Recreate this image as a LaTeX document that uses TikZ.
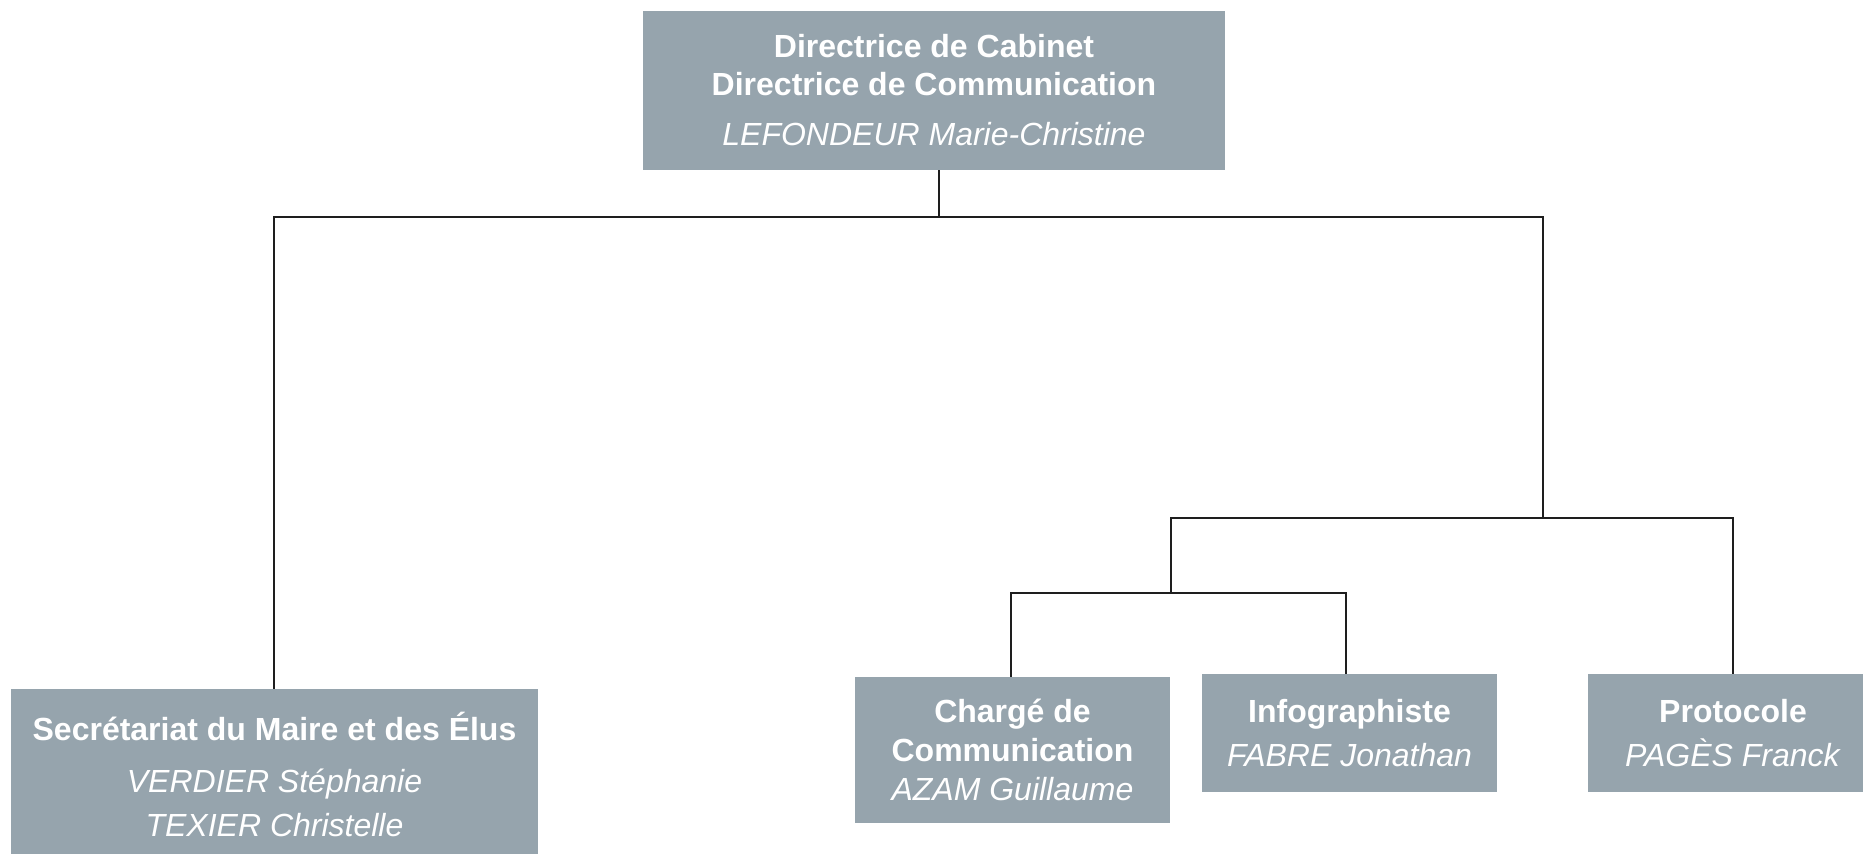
\documentclass[tikz,border=0pt]{standalone}
\usepackage{fontspec}
\setmainfont{Liberation Sans}
\definecolor{boxgray}{RGB}{150,164,173}
\definecolor{linkcol}{RGB}{30,30,30}
\begin{document}
\begin{tikzpicture}[x=0.5pt,y=-0.5pt,
  orgbox/.style={fill=boxgray, draw=none, text=white, align=center, inner sep=0pt,
                 font=\fontsize{16}{19}\selectfont},
  link/.style={draw=linkcol, line width=1.35pt}]
\useasboundingbox (0,0) rectangle (1863,853);

\node[orgbox, minimum width=291pt, minimum height=79.5pt] (top) at (934,90.5)
  {\textbf{Directrice de Cabinet}\\\textbf{Directrice de Communication}\\[6pt]\textit{LEFONDEUR Marie-Christine}};
\node[orgbox, minimum width=263.5pt, minimum height=85.5pt] (sec) at (274.5,774.5)
  {\textbf{Secrétariat du Maire et des Élus}\\[7pt]\textit{VERDIER Stéphanie}\\[3pt]\textit{TEXIER Christelle}};
\node[orgbox, minimum width=157.5pt, minimum height=73pt] (charge) at (1012.5,750)
  {\textbf{Chargé de}\\[0.5pt]\textbf{Communication}\\[0.5pt]\textit{AZAM Guillaume}};
\node[orgbox, minimum width=147.5pt, minimum height=59pt] (info) at (1349.5,733)
  {\textbf{Infographiste}\\[3pt]\textit{FABRE Jonathan}};
\node[orgbox, minimum width=145pt, minimum height=59pt] (proto) at (1733,733)
  {\textbf{Protocole}\\[3pt]\textit{PAGÈS Franck}};

\coordinate (hA) at (939,217);
\coordinate (hL) at (274,217);
\coordinate (hR) at (1543,217);
\coordinate (mR) at (1543,518);
\coordinate (mL) at (1171,518);
\coordinate (mE) at (1733,518);
\coordinate (lC) at (1171,593);
\coordinate (lL) at (1011,593);
\coordinate (lR) at (1346,593);

\draw[link] (top.south -| hA) -- (hA);
\draw[link] (sec.north -| hL) -- (hL) -- (hR) -- (mR);
\draw[link] (lC) -- (mL) -- (mE) -- (proto.north -| mE);
\draw[link] (charge.north -| lL) -- (lL) -- (lR) -- (info.north -| lR);
\end{tikzpicture}
\end{document}
